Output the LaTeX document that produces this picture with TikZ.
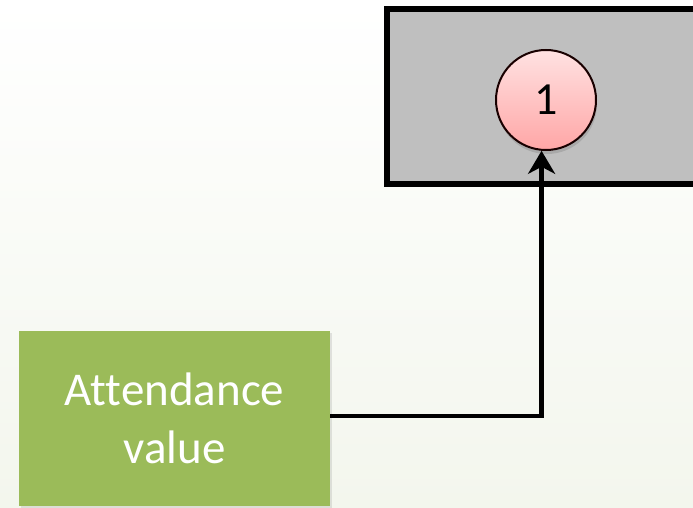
\documentclass[tikz,border=0pt]{standalone}
\usepackage{fontspec}
\setmainfont{Carlito}[Ligatures=NoCommon]
\usetikzlibrary{arrows.meta,shadows}
\definecolor{bgbot}{RGB}{243,246,237}
\definecolor{boxgray}{RGB}{191,191,191}
\definecolor{greenfill}{RGB}{155,187,89}
\definecolor{pinktop}{RGB}{255,226,226}
\definecolor{pinkbot}{RGB}{255,166,166}
\definecolor{circborder}{RGB}{25,0,0}
\tikzset{
  graybox/.style={draw=black, line width=6pt, fill=boxgray, drop shadow={shadow xshift=2pt, shadow yshift=-3pt, opacity=0.25}},
  greenbox/.style={fill=greenfill, minimum width=311pt, minimum height=175pt, inner sep=0pt, text=white, align=center,
    font=\fontsize{47}{58}\selectfont, drop shadow={shadow xshift=2pt, shadow yshift=-2pt, opacity=0.2}},
  numcircle/.style={circle, draw=circborder, line width=2pt, top color=pinktop, bottom color=pinkbot,
    minimum size=100pt, inner sep=0pt, font=\fontsize{46}{55}\selectfont,
    drop shadow={shadow xshift=1pt, shadow yshift=-4pt, opacity=0.35}},
  connector/.style={line width=4.5pt, -{Stealth[length=23pt, width=27pt, inset=7pt]}}
}
\begin{document}
\begin{tikzpicture}[x=1pt,y=1pt]
\useasboundingbox (0,0) rectangle (693,507);
\clip (0,0) rectangle (693,507);
\shade[top color=white, bottom color=bgbot] (0,0) rectangle (693,507);
\path[graybox] (387,498) rectangle (730,323);
\node[numcircle] (c) at (546,407) {1};
\node[greenbox] (g) at (174.5,89) {Attendance\\value};
\draw[connector] ([yshift=2pt]g.east) -| (c.-95);
\end{tikzpicture}
\end{document}
